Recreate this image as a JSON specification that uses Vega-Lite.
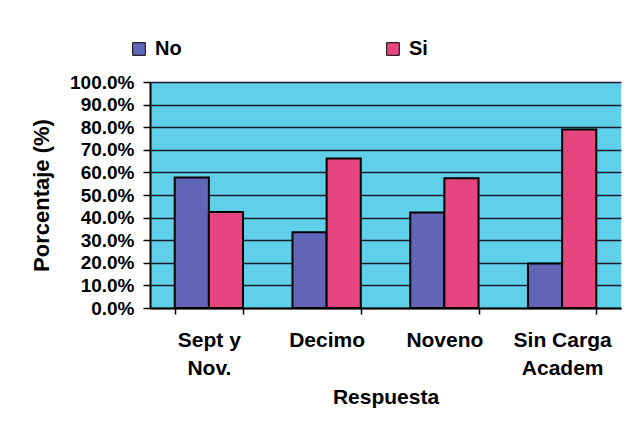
{
  "$schema": "https://vega.github.io/schema/vega-lite/v6.json",
  "autosize": {"type": "none"},
  "padding": {"left": 150, "top": 82, "right": 21, "bottom": 114},
  "width": 471,
  "height": 226,
  "background": "#ffffff",
  "data": {
    "values": [
      {"categoria": "Sept y Nov.", "serie": "No", "valor": 0.577},
      {"categoria": "Sept y Nov.", "serie": "Si", "valor": 0.425},
      {"categoria": "Decimo", "serie": "No", "valor": 0.335},
      {"categoria": "Decimo", "serie": "Si", "valor": 0.662},
      {"categoria": "Noveno", "serie": "No", "valor": 0.423},
      {"categoria": "Noveno", "serie": "Si", "valor": 0.574},
      {"categoria": "Sin Carga Academ", "serie": "No", "valor": 0.197},
      {"categoria": "Sin Carga Academ", "serie": "Si", "valor": 0.79}
    ]
  },
  "mark": {"type": "bar", "stroke": "#000000", "strokeWidth": 2},
  "encoding": {
    "x": {
      "field": "categoria",
      "type": "nominal",
      "sort": ["Sept y Nov.", "Decimo", "Noveno", "Sin Carga Academ"],
      "scale": {"paddingInner": 0.42, "paddingOuter": 0.21},
      "axis": {
        "title": "Respuesta",
        "labelAngle": 0,
        "tickBand": "extent",
        "tickSize": 6,
        "tickColor": "#000000",
        "tickWidth": 1.5,
        "domainColor": "#000000",
        "domainWidth": 2,
        "labelFont": "Liberation Sans",
        "labelFontWeight": "bold",
        "labelFontSize": 21,
        "labelColor": "#000000",
        "labelPadding": 15,
        "labelLineHeight": 28,
        "labelExpr": "datum.value == 'Sept y Nov.' ? ['Sept y', 'Nov.'] : datum.value == 'Sin Carga Academ' ? ['Sin Carga', 'Academ'] : datum.value",
        "titleFont": "Liberation Sans",
        "titleFontWeight": "bold",
        "titleFontSize": 21,
        "titleColor": "#000000",
        "titlePadding": 8
      }
    },
    "xOffset": {"field": "serie", "type": "nominal", "scale": {"paddingInner": 0, "paddingOuter": 0}},
    "y": {
      "field": "valor",
      "type": "quantitative",
      "scale": {"domain": [0, 1], "nice": false},
      "axis": {
        "title": "Porcentaje (%)",
        "values": [0, 0.1, 0.2, 0.3, 0.4, 0.5, 0.6, 0.7, 0.8, 0.9, 1.0],
        "format": ".1%",
        "grid": true,
        "gridColor": "#1b1b2b",
        "gridWidth": 1.5,
        "gridOpacity": 1,
        "tickSize": 7,
        "tickColor": "#000000",
        "tickWidth": 1.5,
        "domainColor": "#000000",
        "domainWidth": 2,
        "labelFont": "Liberation Sans",
        "labelFontWeight": "bold",
        "labelFontSize": 19,
        "labelColor": "#000000",
        "labelPadding": 9,
        "titleFont": "Liberation Sans",
        "titleFontWeight": "bold",
        "titleFontSize": 22,
        "titleColor": "#000000",
        "titlePadding": 16
      }
    },
    "fill": {
      "field": "serie",
      "type": "nominal",
      "scale": {"domain": ["No", "Si"], "range": ["#6165b8", "#e6467f"]},
      "legend": {
        "title": null,
        "orient": "none",
        "direction": "horizontal",
        "legendX": -21,
        "legendY": -43,
        "padding": 0,
        "symbolType": "square",
        "symbolSize": 160,
        "symbolStrokeColor": "#000000",
        "symbolStrokeWidth": 1,
        "labelFont": "Liberation Sans",
        "labelFontWeight": "bold",
        "labelFontSize": 20,
        "labelColor": "#000000",
        "labelOffset": 6,
        "columnPadding": 201
      }
    }
  },
  "config": {
    "view": {"fill": "#60d0ea", "stroke": null}
  }
}
